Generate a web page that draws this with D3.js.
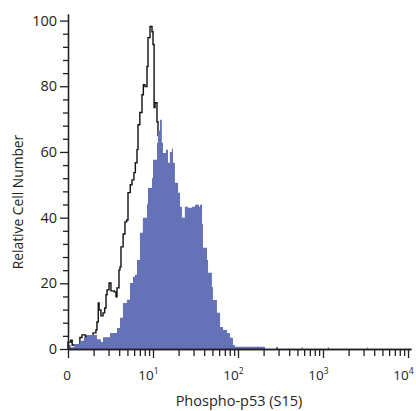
<!DOCTYPE html>
<html>
<head>
<meta charset="utf-8">
<script src="https://cdn.jsdelivr.net/npm/d3@7"></script>
<style>
body { margin: 0; background: #fff; }
text { font-family: "Open Sans", sans-serif; fill: #231f20; }
</style>
</head>
<body>
<svg id="chart" width="416" height="411"></svg>
<script>
// control histogram (black outline): fluorescence intensity, relative count
var ctrlX = [1.00, 1.08, 1.12, 1.24, 1.38, 1.46, 1.60, 1.67, 1.82, 1.97, 2.13, 2.19, 2.27, 2.32, 2.44, 2.58,
	2.70, 2.80, 2.88, 3.04, 3.20, 3.50, 3.67, 3.77, 3.98, 4.09, 4.20, 4.45, 4.68, 4.90, 5.08, 5.40,
	5.66, 5.97, 6.20, 6.48, 6.66, 7.00, 7.42, 7.70, 8.05, 8.50, 8.73, 9.22, 9.73, 10.0, 10.3, 10.56,
	11.14, 11.45, 12.0, 13.0, 14.0, 15.5, 17.0, 19.0, 21.0];
var ctrlY = [2.1, 2.7, 1.2, 1.0, 3.5, 4.3, 3.2, 4.0, 2.8, 4.9, 5.8, 8.2, 14.0, 11.9, 10.1, 11.0,
	12.5, 16.5, 18.0, 20.1, 17.7, 17.4, 15.9, 18.6, 24.1, 25.0, 31.1, 35.0, 38.7, 39.3, 47.6, 50.0,
	51.5, 53.7, 56.7, 60.7, 68.3, 72.0, 77.4, 80.5, 79.9, 86.0, 94.8, 98.2, 96.6, 92.7, 73.5, 75.0,
	69.2, 65.0, 55.0, 40.0, 28.0, 15.0, 6.0, 2.0, 0];

// phospho-p53 stained histogram (blue fill)
var treatX = [1.00, 1.08, 1.18, 1.38, 1.54, 1.67, 1.97, 2.19, 2.44, 2.58, 3.12, 3.77, 4.09, 4.43, 4.94, 5.36,
	5.81, 6.14, 6.48, 7.02, 7.60, 8.50, 8.73, 9.73, 10.0, 10.3, 11.14, 11.45, 12.1, 12.7, 13.1, 14.2,
	15.0, 15.8, 16.7, 17.2, 18.1, 19.7, 20.8, 21.9, 23.7, 25.8, 28.7, 31.2, 34.7, 35.7, 37.7, 38.7,
	43.2, 44.4, 49.3, 50.7, 56.5, 61.5, 66.7, 74.3, 80.4, 87.2, 91.8, 208, 230, 280, 295, 560, 575,
	1140, 1170, 3280, 3340, 3400];
var treatY = [1.2, 0.5, 1.5, 2.5, 3.6, 4.3, 4.3, 3.0, 2.1, 3.6, 4.9, 6.4, 9.5, 14.0, 15.0, 20.1,
	22.0, 22.6, 27.1, 35.4, 40.0, 44.2, 49.0, 52.0, 57.6, 57.6, 62.8, 66.5, 69.8, 62.8, 59.7, 60.7,
	56.7, 60.0, 61.0, 56.7, 50.6, 47.6, 43.3, 40.0, 43.3, 43.0, 43.3, 43.9, 43.3, 43.9, 38.1, 30.8,
	27.1, 23.2, 18.9, 14.9, 11.0, 6.7, 5.8, 4.9, 3.4, 1.2, 0.7, 0, 0, 0.6, 0, 0.6, 0,
	0.6, 0, 0.6, 0, 0];

var yMajor = [0, 20, 40, 60, 80, 100];
var xMajor = [1, 10, 100, 1000, 10000];
var xLabels = ["0", "10|1", "10|2", "10|3", "10|4"];

var svg = d3.select("#chart");

var x = d3.scaleLog().domain([1, Math.pow(10, 4.035)]).range([68, 411]);
var y = d3.scaleLinear().domain([0, 102]).range([349, 14]);

var ctrl = ctrlX.map(function(v, i) { return [v, ctrlY[i]]; });
var treat = treatX.map(function(v, i) { return [v, treatY[i]]; });
ctrl.unshift([1, 0]);

// black outline first, blue fill covers its falling side
svg.append("path")
	.datum(ctrl)
	.attr("fill", "none")
	.attr("stroke", "#111")
	.attr("stroke-width", 1.4)
	.attr("d", d3.line()
		.x(function(d) { return x(d[0]); })
		.y(function(d) { return y(d[1]); })
		.curve(d3.curveStepAfter));

svg.append("path")
	.datum(treat)
	.attr("fill", "#6572b8")
	.attr("d", d3.area()
		.x(function(d) { return x(d[0]); })
		.y0(y(0))
		.y1(function(d) { return y(d[1]); })
		.curve(d3.curveStepAfter));

// minor ticks
var xMinor = [];
xMajor.slice(0, 4).forEach(function(m) {
	for (var k = 2; k <= 9; k++) xMinor.push(m * k);
});
var yMinor = d3.range(0, 101, 4).filter(function(v) { return yMajor.indexOf(v) < 0; });

var gx = svg.append("g").attr("transform", "translate(0," + y(0) + ")");
gx.call(d3.axisBottom(x).tickValues(xMinor).tickSize(7).tickSizeOuter(0).tickFormat(""));
gx.append("g").call(d3.axisBottom(x).tickValues(xMajor).tickSize(9).tickSizeOuter(0).tickFormat(""));

var gy = svg.append("g").attr("transform", "translate(" + x(1) + ",0)");
gy.call(d3.axisLeft(y).tickValues(yMinor).tickSize(5).tickSizeOuter(0).tickFormat(""));
gy.append("g").call(d3.axisLeft(y).tickValues(yMajor).tickSize(8).tickSizeOuter(0)
	.tickPadding(3).tickFormat(d3.format("d")));

svg.selectAll(".domain, .tick line").attr("stroke", "#231f20").attr("stroke-width", 1.3);
gy.selectAll("text").style("font-size", "14.5px").style("font-family", "'Open Sans', sans-serif")
	.attr("fill", "#231f20");

// x tick labels with superscript exponents; the "10" sits just left of its tick
xMajor.forEach(function(v, i) {
	var parts = xLabels[i].split("|");
	var t = svg.append("text")
		.attr("x", parts[1] ? x(v) - 4.5 : x(v) - 1)
		.attr("y", 380)
		.attr("text-anchor", "middle")
		.style("font-size", "13.5px")
		.text(parts[0]);
	if (parts[1]) {
		t.append("tspan").attr("dy", -6).style("font-size", "8.5px").text(parts[1]);
	}
});

svg.append("text")
	.attr("transform", "translate(23,202) rotate(-90)")
	.attr("text-anchor", "middle")
	.style("font-size", "13.8px")
	.text("Relative Cell Number");

svg.append("text")
	.attr("x", 239)
	.attr("y", 406)
	.attr("text-anchor", "middle")
	.style("font-size", "14.5px")
	.text("Phospho-p53 (S15)");
</script>
</body>
</html>
